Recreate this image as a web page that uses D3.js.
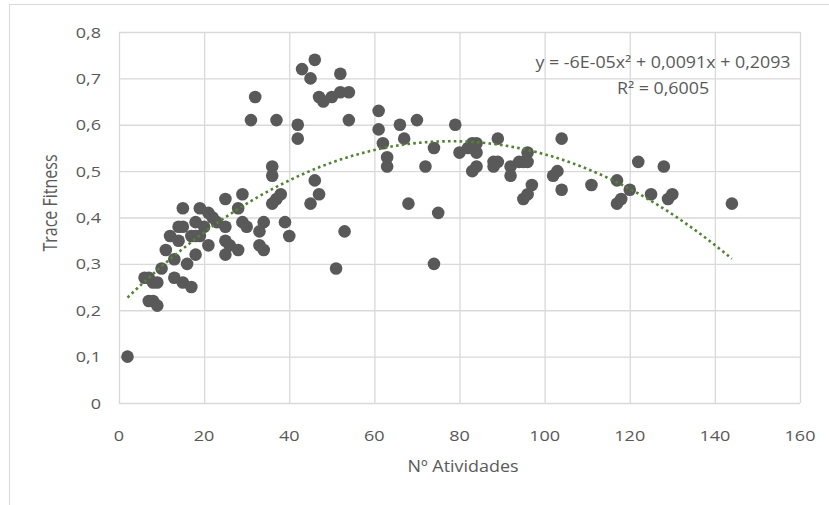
<!DOCTYPE html>
<html>
<head>
<meta charset="utf-8">
<script src="https://cdn.jsdelivr.net/npm/d3@7"></script>
<style>
  body { margin: 0; background: #fff; }
  text { font-family: "Open Sans", "Noto Sans", sans-serif; fill: #595959; }
</style>
</head>
<body>
<div id="chart"></div>
<script>
// values
const atividades = [2, 6, 7, 8, 9, 7, 8, 9, 10, 11, 12, 13, 13, 14, 14, 15, 15, 15, 16, 17,
  17, 18, 18, 18, 19, 19, 20, 21, 21, 22, 23, 25, 25, 25, 25, 26, 28, 28, 29, 29,
  30, 31, 32, 33, 34, 33, 34, 36, 36, 36, 37, 38, 37, 39, 40, 42, 42, 43, 45, 45,
  46, 46, 47, 47, 48, 50, 51, 52, 52, 53, 54, 54, 61, 61, 62, 63, 63, 66, 67, 68,
  70, 72, 74, 74, 75, 79, 80, 82, 83, 84, 84, 83, 84, 88, 89, 88, 89, 92, 92, 94,
  95, 96, 96, 97, 95, 96, 102, 103, 104, 104, 111, 117, 117, 118, 120, 122, 125, 128, 129, 130,
  144];
const fitness = [0.10, 0.27, 0.27, 0.26, 0.26, 0.22, 0.22, 0.21, 0.29, 0.33, 0.36, 0.31, 0.27, 0.35, 0.38, 0.38, 0.42, 0.26, 0.30, 0.25,
  0.36, 0.39, 0.32, 0.36, 0.42, 0.36, 0.38, 0.41, 0.34, 0.40, 0.39, 0.38, 0.44, 0.35, 0.32, 0.34, 0.33, 0.42, 0.45, 0.39,
  0.38, 0.61, 0.66, 0.37, 0.39, 0.34, 0.33, 0.43, 0.49, 0.51, 0.44, 0.45, 0.61, 0.39, 0.36, 0.60, 0.57, 0.72, 0.70, 0.43,
  0.74, 0.48, 0.45, 0.66, 0.65, 0.66, 0.29, 0.71, 0.67, 0.37, 0.67, 0.61, 0.63, 0.59, 0.56, 0.53, 0.51, 0.60, 0.57, 0.43,
  0.61, 0.51, 0.55, 0.30, 0.41, 0.60, 0.54, 0.55, 0.56, 0.56, 0.54, 0.50, 0.51, 0.52, 0.52, 0.51, 0.57, 0.51, 0.49, 0.52,
  0.52, 0.54, 0.52, 0.47, 0.44, 0.45, 0.49, 0.50, 0.46, 0.57, 0.47, 0.48, 0.43, 0.44, 0.46, 0.52, 0.45, 0.51, 0.44, 0.45,
  0.43];

const xTicks = [0, 20, 40, 60, 80, 100, 120, 140, 160];
const yTicks = [0, 0.1, 0.2, 0.3, 0.4, 0.5, 0.6, 0.7, 0.8];

// polynomial trendline (order 2), shown as the label
const trendCoef = [0.2093, 0.0091, -0.0000583];
const trendRange = [2, 144];
const trendLabel = ["y = -6E-05x² + 0,0091x + 0,2093", "R² = 0,6005"];

const width = 829, height = 505;
const margin = {top: 32, right: 29, bottom: 102, left: 119};

// the original text is a bit wider than it is tall
const stretch = 1.2;

const svg = d3.select("#chart").append("svg")
  .attr("width", width)
  .attr("height", height);

// outer chart frame (only top and left edges are visible)
svg.append("path")
  .attr("d", `M9.5,${height} V4.5 H${width}`)
  .attr("fill", "none")
  .attr("stroke", "#d9d9d9");

const x = d3.scaleLinear().domain([0, 160]).range([margin.left, width - margin.right]);
const y = d3.scaleLinear().domain([0, 0.8]).range([height - margin.bottom, margin.top]);

const fmt = d => d === 0 ? "0" : d3.format(".1f")(d).replace(".", ",");

// gridlines
svg.append("g")
  .attr("transform", `translate(0,${height - margin.bottom})`)
  .call(d3.axisBottom(x).tickValues(xTicks).tickSize(-(height - margin.bottom - margin.top)).tickFormat(""))
  .call(g => g.select(".domain").remove())
  .call(g => g.selectAll("line").attr("stroke", "#d9d9d9").attr("stroke-width", 1.3));

svg.append("g")
  .attr("transform", `translate(${margin.left},0)`)
  .call(d3.axisLeft(y).tickValues(yTicks).tickSize(-(width - margin.left - margin.right)).tickFormat(""))
  .call(g => g.select(".domain").remove())
  .call(g => g.selectAll("line").attr("stroke", "#d9d9d9").attr("stroke-width", 1.3));

// tick labels
svg.append("g")
  .selectAll("text")
  .data(xTicks)
  .join("text")
  .attr("transform", d => `translate(${x(d)},${height - margin.bottom + 38}) scale(${stretch},1)`)
  .attr("text-anchor", "middle")
  .style("font-size", "15px")
  .text(d => d);

svg.append("g")
  .selectAll("text")
  .data(yTicks)
  .join("text")
  .attr("transform", d => `translate(${margin.left - 18},${y(d) + 5.5}) scale(${stretch},1)`)
  .attr("text-anchor", "end")
  .style("font-size", "15px")
  .text(fmt);

// axis titles
svg.append("text")
  .attr("transform", `translate(463,472) scale(1.12,1)`)
  .attr("text-anchor", "middle")
  .style("font-size", "16px")
  .text("Nº Atividades");

svg.append("text")
  .attr("transform", "translate(57,203) scale(1.3,1) rotate(-90)")
  .attr("text-anchor", "middle")
  .style("font-size", "16px")
  .text("Trace Fitness");

// points
const pts = atividades.map((d, i) => [d, fitness[i]]);

svg.append("g")
  .selectAll("circle")
  .data(pts)
  .join("circle")
  .attr("cx", d => x(d[0]))
  .attr("cy", d => y(d[1]))
  .attr("r", 6.3)
  .attr("fill", "#595959");

// trendline
const trend = d3.range(trendRange[0], trendRange[1] + 0.5, 1)
  .map(v => [v, trendCoef[0] + trendCoef[1] * v + trendCoef[2] * v * v]);

svg.append("path")
  .datum(trend)
  .attr("d", d3.line().x(d => x(d[0])).y(d => y(d[1])))
  .attr("fill", "none")
  .attr("stroke", "#548235")
  .attr("stroke-width", 2.6)
  .attr("stroke-dasharray", "2.6 3.2");

// equation label
svg.append("g")
  .selectAll("text")
  .data(trendLabel)
  .join("text")
  .attr("transform", (d, i) => `translate(663,${68 + i * 26}) scale(1.15,1)`)
  .attr("text-anchor", "middle")
  .style("font-size", "15.5px")
  .text(d => d);
</script>
</body>
</html>
